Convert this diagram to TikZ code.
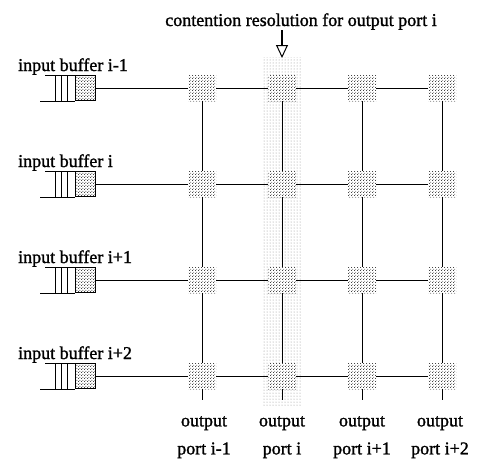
\documentclass[tikz,border=0pt]{standalone}
\usepackage{fontspec}
\setmainfont{Liberation Serif}[FakeBold=1.4]
\usetikzlibrary{patterns,patterns.meta,arrows.meta}
\tikzdeclarepattern{
  name=densedots, type=uncolored,
  bottom left={(0pt,0pt)}, top right={(3pt,3pt)}, tile size={(3pt,3pt)},
  code={
    \pgfpathcircle{\pgfpoint{0.75pt}{0.75pt}}{0.62pt}
    \pgfpathcircle{\pgfpoint{2.25pt}{2.25pt}}{0.62pt}
    \pgfusepath{fill}
  }
}
\begin{document}
\begin{tikzpicture}[x=1pt,y=-1pt,
  lbl/.style={font=\fontsize{18}{28}\selectfont, inner sep=0pt},
  xpt/.style={minimum width=28pt, minimum height=26pt, inner sep=0pt,
    preaction={fill=white}, pattern=densedots, pattern color=black},
  bufcell/.style={minimum width=20pt, minimum height=25pt, inner sep=0pt,
    draw, line width=1pt, pattern=densedots, pattern color=black},
  wire/.style={line width=1pt},
  hilite/.style={pattern=dots, pattern color=black!45}
]
\useasboundingbox (0,0) rectangle (490,459);
% highlighted column
\fill[hilite] (262,57) rectangle (302,405);
% title and arrow
\node[lbl,anchor=base] (title) at (301,26) {contention resolution for output port i};
\coordinate (arrtip) at (282,58);
\draw[line width=1.6pt,-{Triangle[open,width=12pt,length=13pt,line width=1pt]}] (title.south -| arrtip) -- (arrtip);
% crosspoints
\foreach \r/\y in {1/88,2/184,3/280,4/376}{
  \foreach \c/\x in {1/202,2/282,3/362,4/442}{
    \coordinate (p\r\c) at (\x,\y);
  }
}
% buffers
\foreach \r/\y/\t in {1/88/i-1,2/184/i,3/280/i+1,4/376/i+2}{
  \node[bufcell] (b\r) at (85,\y) {};
  \draw[wire] (b\r.north west) -- ++(-30,0);
  \draw[wire] (b\r.south west) -- ++(-35,0);
  \foreach \dx in {-19,-13,-7}{
    \draw[wire] ([xshift=\dx pt]b\r.north west) -- ([xshift=\dx pt]b\r.south west);
  }
  \node[lbl,anchor=base west] (l\r) at (18,\y-17) {input buffer \t};
}
% wires
\foreach \r in {1,2,3,4}{
  \draw[wire] (b\r.east) -- (p\r4);
}
\foreach \c/\x in {1/202,2/282,3/362,4/442}{
  \coordinate (e\c) at (\x,400);
  \draw[wire] (p1\c) -- (e\c);
}
\foreach \r in {1,2,3,4}{
  \foreach \c in {1,2,3,4}{
    \node[xpt] (c\r\c) at (p\r\c) {};
  }
}
% output labels
\foreach \c/\x/\t in {1/204/i-1,2/282/i,3/362/i+1,4/440/i+2}{
  \node[lbl,align=center,anchor=north] (o\c) at (\x,416) {output\\port \t};
}
\end{tikzpicture}
\end{document}
